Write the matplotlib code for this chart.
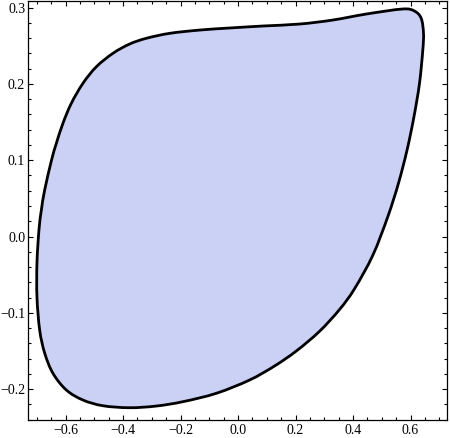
import numpy as np
import matplotlib
matplotlib.use("Agg")
import matplotlib.pyplot as plt
from matplotlib.path import Path
from matplotlib.patches import PathPatch
from matplotlib.ticker import MultipleLocator

# outline of the region (closed loop)
xs = [0.5722, 0.4459, 0.3287, 0.2139, 0.0852, -0.0296, -0.1339, -0.2383, -0.3193, -0.3774,
      -0.4355, -0.4932, -0.5398, -0.5802, -0.6094, -0.6323, -0.6490, -0.6730, -0.6845, -0.6929,
      -0.6998, -0.6998, -0.6904, -0.6730, -0.6442, -0.5976, -0.5398, -0.4703, -0.3774, -0.2845,
      -0.1920, -0.0758, 0.0400, 0.1270, 0.2035, 0.2835, 0.3530, 0.4052, 0.4689, 0.5210,
      0.5580, 0.5880, 0.6120, 0.6313, 0.6428, 0.6452, 0.6372, 0.6139]
ys = [0.2982, 0.2916, 0.2837, 0.2785, 0.2759, 0.2733, 0.2706, 0.2663, 0.2598, 0.2523,
      0.2401, 0.2225, 0.2008, 0.1746, 0.1484, 0.1222, 0.1003, 0.0609, 0.0347, 0.0085,
      -0.0347, -0.0793, -0.1225, -0.1527, -0.1793, -0.2012, -0.2143, -0.2218, -0.2244, -0.2222,
      -0.2165, -0.2055, -0.1881, -0.1697, -0.1498, -0.1242, -0.0957, -0.0685, -0.0245, 0.0260,
      0.0697, 0.1134, 0.1570, 0.2008, 0.2444, 0.2663, 0.2860, 0.2955]

xticks = [-0.6, -0.4, -0.2, 0.0, 0.2, 0.4, 0.6]
yticks = [-0.2, -0.1, 0.0, 0.1, 0.2, 0.3]

plt.rcParams['font.family'] = ['Liberation Serif', 'DejaVu Serif']


def fmt(v):
    s = '%.1f' % abs(v)
    return '\u2212' + s if v < 0 else s


pts = np.column_stack([xs, ys])
n = len(pts)
# smooth closed curve: catmull-rom handles turned into bezier segments
verts = [pts[0]]
codes = [Path.MOVETO]
for i in range(n):
    p0, p1, p2, p3 = pts[i - 1], pts[i], pts[(i + 1) % n], pts[(i + 2) % n]
    verts += [p1 + (p2 - p0) / 6, p2 - (p3 - p1) / 6, p2]
    codes += [Path.CURVE4] * 3
verts.append(pts[0])
codes.append(Path.CLOSEPOLY)

fig = plt.figure(figsize=(4.5, 4.38), dpi=100)
ax = fig.add_axes([28 / 450, 18 / 438, 419 / 450, 419 / 438])
ax.add_patch(PathPatch(Path(verts, codes), facecolor='#cbd0f5', edgecolor='black', lw=2.0))

ax.set_xlim(-0.731, 0.727)
ax.set_ylim(-0.2405, 0.3087)
ax.set_xticks(xticks)
ax.set_yticks(yticks)
ax.set_xticklabels([fmt(v) for v in xticks])
ax.set_yticklabels([fmt(v) for v in yticks])
ax.xaxis.set_minor_locator(MultipleLocator(0.05))
ax.yaxis.set_minor_locator(MultipleLocator(0.02))
ax.tick_params(which='both', direction='in', top=True, right=True, width=0.8, labelsize=10)
ax.tick_params(which='major', length=3.5, pad=2)
ax.tick_params(which='minor', length=2)
ax.tick_params(axis='x', which='major', pad=3)
for s in ax.spines.values():
    s.set_linewidth(0.9)

fig.savefig("out.png", dpi=100)
